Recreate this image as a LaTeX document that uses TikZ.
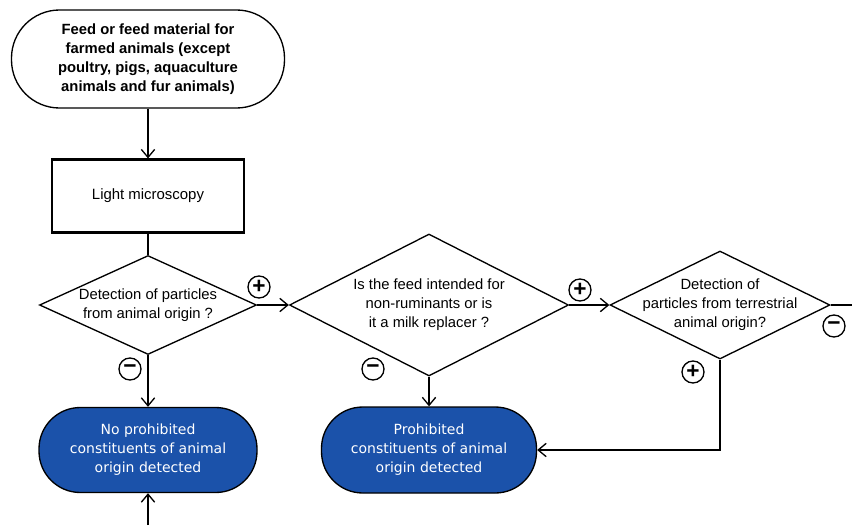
\documentclass[tikz,border=0pt]{standalone}
\usepackage{fontspec}
\setmainfont{Liberation Sans}
\newfontfamily\resultfont{DejaVu Sans}
\usetikzlibrary{shapes.geometric,arrows.meta}

\definecolor{resultblue}{RGB}{27,82,170}

\tikzset{
  flow/.style={line width=1pt},
  arr/.style={flow,-{Straight Barb[length=6pt,width=10pt]}},
  startbox/.style={draw,line width=1pt,rectangle,rounded corners=36pt,minimum width=204.75pt,minimum height=73.5pt,align=center,font=\fontsize{11.1}{14.25}\selectfont\bfseries},
  methodbox/.style={draw,line width=1.6pt,rectangle,minimum width=144pt,minimum height=54.75pt,font=\fontsize{11.2}{14.25}\selectfont},
  question/.style={draw,line width=1pt,diamond,inner sep=0pt,align=center,font=\fontsize{11.1}{14.25}\selectfont},
  result/.style={draw,line width=1pt,rectangle,rounded corners=31pt,fill=resultblue,text=white,align=center,font=\resultfont\fontsize{10.5}{14.25}\selectfont},
  sign/.style={draw,circle,line width=1pt,inner sep=0pt,minimum size=16.5pt,font=\fontsize{17}{17}\selectfont\bfseries},
}

\begin{document}
\begin{tikzpicture}[x=0.75pt,y=0.75pt,yscale=-1,xscale=1]
\useasboundingbox (0,0) rectangle (852,525);

% Start
\node [startbox] (feed) at (148,59) {Feed or feed material for\\farmed animals (except\\poultry, pigs, aquaculture\\animals and fur animals)};
% Method
\node [methodbox] (micro) at (148,196) {Light microscopy};

% Questions
\node [question,minimum width=162.75pt,minimum height=74.25pt,shape aspect=2.19] (qparticles) at (148,305) {Detection of particles\\from animal origin ?};
\node [question,minimum width=209.25pt,minimum height=106.5pt,shape aspect=1.96] (qruminant) at (429,305) {Is the feed intended for\\non-ruminants or is\\it a milk replacer ?};
\node [question,minimum width=165pt,minimum height=81pt,shape aspect=2.04,inner xsep=-12pt,inner ysep=-4pt] (qterrestrial) at (720,305) {Detection of\\particles from terrestrial\\animal origin?};

% Results
\node [result,minimum width=163.5pt,minimum height=63.75pt] (none) at (148,450) {No prohibited\\constituents of animal\\origin detected};
\node [result,minimum width=161.25pt,minimum height=64.5pt] (found) at (429,450) {Prohibited\\constituents of animal\\origin detected};

% Loose ends
\coordinate (below) at (148,525);
\coordinate (offright) at (852,305);

% Connectors
\draw [arr] (feed) -- (micro);
\draw [flow] (micro) -- (qparticles.north);
\draw [arr] (qparticles.east) -- (qruminant.west);
\draw [arr] (qruminant.east) -- (qterrestrial.west);
\draw [flow] (qterrestrial.east) -- (offright);
\draw [arr] (qparticles.south) -- (none.north);
\draw [arr] (qruminant.south) -- (found.north);
\draw [arr] (qterrestrial.south) |- (found.east);
\draw [arr] (below) -- (none.south);

% Signs
\node [sign] (plusA) at (259,287) {+};
\node [sign] (minusA) at (130,369) {−};
\node [sign] (minusB) at (373,369) {−};
\node [sign] (plusB) at (580,290) {+};
\node [sign] (minusC) at (834,326) {−};
\node [sign] (plusC) at (693,372) {+};

\end{tikzpicture}
\end{document}
